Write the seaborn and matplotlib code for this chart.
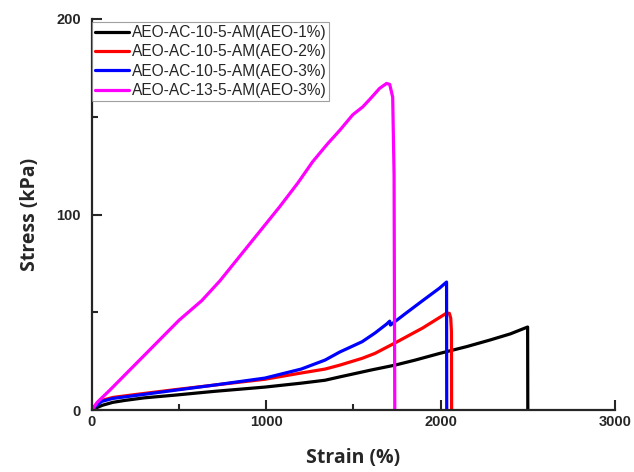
import matplotlib
matplotlib.use("Agg")
import matplotlib.pyplot as plt
import seaborn as sns
import pandas as pd
from matplotlib.ticker import MultipleLocator

sns.set_style("ticks")
plt.rcParams['font.family'] = ['Liberation Sans', 'DejaVu Sans']

labels = ["AEO-AC-10-5-AM(AEO-1%)", "AEO-AC-10-5-AM(AEO-2%)",
          "AEO-AC-10-5-AM(AEO-3%)", "AEO-AC-13-5-AM(AEO-3%)"]
colors = ["#000000", "#FF0000", "#0000FF", "#FF00FF"]

black_x = [0, 20, 60, 120, 190, 300, 478, 700, 992, 1200, 1337, 1421, 1600, 1737, 1850, 1994, 2150, 2281, 2400, 2499, 2500]
black_y = [0, 1.0, 2.5, 4.0, 5.0, 6.3, 7.7, 9.6, 11.8, 13.8, 15.3, 17.0, 20.5, 23.0, 25.5, 29.0, 32.5, 35.8, 39.0, 42.5, 0]

red_x = [0, 20, 57, 120, 250, 478, 700, 992, 1200, 1337, 1421, 1550, 1623, 1737, 1897, 2034, 2050, 2058, 2062, 2063]
red_y = [0, 2.5, 5.0, 6.5, 8.0, 10.5, 12.8, 15.8, 19.0, 21.0, 23.0, 26.5, 29.0, 34.3, 42.0, 49.6, 49.5, 47.0, 40.0, 0]

blue_x = [0, 20, 57, 120, 250, 478, 700, 992, 1200, 1337, 1421, 1550, 1623, 1690, 1708, 1712, 1800, 1897, 1994, 2034, 2035]
blue_y = [0, 2.0, 4.5, 6.0, 7.5, 10.2, 12.8, 16.4, 21.0, 25.6, 29.7, 35.0, 39.4, 44.0, 45.5, 43.5, 49.5, 56.0, 62.4, 65.5, 0]

pink_x = [0, 30, 100, 200, 300, 400, 500, 630, 733, 905, 1077, 1180, 1266, 1350, 1421, 1496, 1553, 1600, 1650, 1690, 1708, 1725, 1733, 1737]
pink_y = [0, 4.0, 10.0, 19.0, 28.0, 37.0, 46.0, 56.0, 66.0, 85.0, 104.0, 116.0, 127.0, 136.0, 143.0, 151.0, 155.0, 159.5, 164.5, 167.0, 166.5, 160.0, 120.0, 0]

series_x = [black_x, red_x, blue_x, pink_x]
series_y = [black_y, red_y, blue_y, pink_y]

frames = []
for lab, xs, ys in zip(labels, series_x, series_y):
    frames.append(pd.DataFrame({"Strain": xs, "Stress": ys, "Sample": lab}))
df = pd.concat(frames, ignore_index=True)

fig = plt.figure(figsize=(6.34, 4.72), dpi=100)
ax = fig.add_axes([0.145, 0.131, 0.825, 0.829])

sns.lineplot(data=df, x="Strain", y="Stress", hue="Sample", hue_order=labels,
             palette=colors, sort=False, estimator=None, units="Sample",
             linewidth=2.3, ax=ax, legend=True)

ax.set_xlim(0, 3000)
ax.set_ylim(0, 200)
ax.xaxis.set_major_locator(MultipleLocator(1000))
ax.xaxis.set_minor_locator(MultipleLocator(500))
ax.yaxis.set_major_locator(MultipleLocator(100))
ax.yaxis.set_minor_locator(MultipleLocator(50))
ax.tick_params(which="both", direction="in", width=1.5, labelsize=10.5)
ax.tick_params(which="major", length=7)
ax.tick_params(which="minor", length=4)
ax.tick_params(axis="y", pad=8)
for lbl in ax.get_xticklabels() + ax.get_yticklabels():
    lbl.set_fontweight("bold")

for s in ["top", "right"]:
    ax.spines[s].set_visible(False)
for s in ["left", "bottom"]:
    ax.spines[s].set_linewidth(1.6)

ax.set_xlabel("Strain (%)", fontsize=14, fontweight="bold", family="Open Sans", labelpad=14)
ax.set_ylabel("Stress (kPa)", fontsize=14, fontweight="bold", family="Open Sans", labelpad=12)

leg = ax.legend(loc="upper left", bbox_to_anchor=(0.0, 0.992), borderaxespad=0,
                fontsize=11.2, frameon=True, fancybox=False, handlelength=2.2,
                handletextpad=0.15, labelspacing=0.28, borderpad=0.2)
leg.get_frame().set_edgecolor("#888888")
leg.get_frame().set_linewidth(0.8)
for line in leg.get_lines():
    line.set_linewidth(2.3)

fig.savefig("out.png", dpi=100)
